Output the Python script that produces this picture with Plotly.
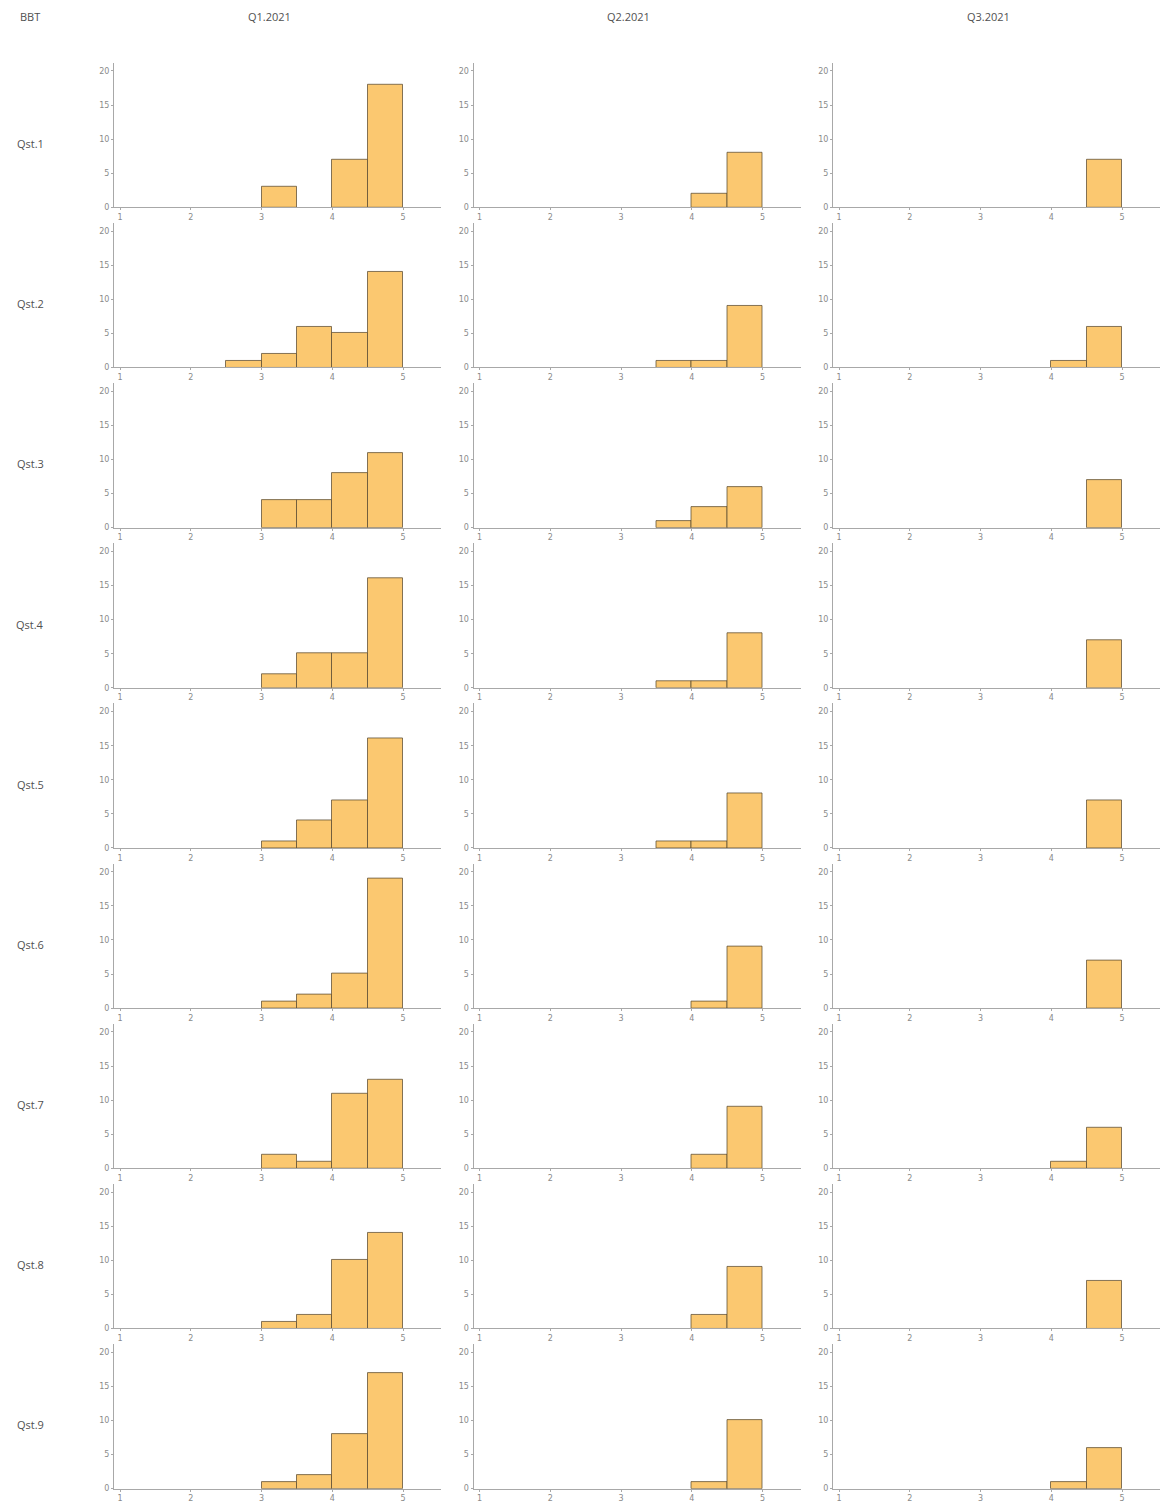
import plotly.graph_objects as go

# ---------------- data ----------------
corner_label = "BBT"
periods = ["Q1.2021", "Q2.2021", "Q3.2021"]
questions = ["Qst.1", "Qst.2", "Qst.3", "Qst.4", "Qst.5", "Qst.6", "Qst.7", "Qst.8", "Qst.9"]
bin_left = [1.0, 1.5, 2.0, 2.5, 3.0, 3.5, 4.0, 4.5]
bin_width = 0.5

# counts per bin (8 bins: 1-1.5 ... 4.5-5), one list per question
q1_2021 = [
    [0, 0, 0, 0, 3, 0, 7, 18],
    [0, 0, 0, 1, 2, 6, 5, 14],
    [0, 0, 0, 0, 4, 4, 8, 11],
    [0, 0, 0, 0, 2, 5, 5, 16],
    [0, 0, 0, 0, 1, 4, 7, 16],
    [0, 0, 0, 0, 1, 2, 5, 19],
    [0, 0, 0, 0, 2, 1, 11, 13],
    [0, 0, 0, 0, 1, 2, 10, 14],
    [0, 0, 0, 0, 1, 2, 8, 17],
]
q2_2021 = [
    [0, 0, 0, 0, 0, 0, 2, 8],
    [0, 0, 0, 0, 0, 1, 1, 9],
    [0, 0, 0, 0, 0, 1, 3, 6],
    [0, 0, 0, 0, 0, 1, 1, 8],
    [0, 0, 0, 0, 0, 1, 1, 8],
    [0, 0, 0, 0, 0, 0, 1, 9],
    [0, 0, 0, 0, 0, 0, 2, 9],
    [0, 0, 0, 0, 0, 0, 2, 9],
    [0, 0, 0, 0, 0, 0, 1, 10],
]
q3_2021 = [
    [0, 0, 0, 0, 0, 0, 0, 7],
    [0, 0, 0, 0, 0, 0, 1, 6],
    [0, 0, 0, 0, 0, 0, 0, 7],
    [0, 0, 0, 0, 0, 0, 0, 7],
    [0, 0, 0, 0, 0, 0, 0, 7],
    [0, 0, 0, 0, 0, 0, 0, 7],
    [0, 0, 0, 0, 0, 0, 1, 6],
    [0, 0, 0, 0, 0, 0, 0, 7],
    [0, 0, 0, 0, 0, 0, 1, 6],
]
x_ticks = [1, 2, 3, 4, 5]
y_ticks = [0, 5, 10, 15, 20]

series = [q1_2021, q2_2021, q3_2021]

# ---------------- layout ----------------
W, H = 1164, 1504
FILL = "rgb(251,200,112)"
EDGE = "rgba(90,75,50,0.75)"
AXC = "#a8a8a8"
TXT = "#505050"
TICKF = dict(family="DejaVu Sans", size=8, color="#8a8a8a")

col_left = [114, 473.5, 833]
col_w = 327
row_top0, row_h, row_step = 63, 145, 160.7

fig = go.Figure()
layout = dict(
    width=W, height=H,
    margin=dict(l=0, r=0, t=0, b=0),
    paper_bgcolor="white", plot_bgcolor="white",
    showlegend=False,
    font=dict(family="Open Sans", color=TXT),
)

def px_x(p):
    return p / W

def px_y(p):
    return 1 - p / H

k = 0
for r in range(len(questions)):
    for c in range(len(periods)):
        k += 1
        xa = "xaxis" if k == 1 else f"xaxis{k}"
        ya = "yaxis" if k == 1 else f"yaxis{k}"
        xr = "x" if k == 1 else f"x{k}"
        yr = "y" if k == 1 else f"y{k}"
        counts = series[c][r]
        xs = [b + bin_width / 2 for b, v in zip(bin_left, counts) if v > 0]
        ys = [v for v in counts if v > 0]
        fig.add_trace(go.Bar(
            x=xs, y=ys, width=bin_width,
            marker=dict(color=FILL, line=dict(color=EDGE, width=1)),
            xaxis=xr, yaxis=yr, hoverinfo="x+y",
        ))
        top = row_top0 + r * row_step
        bot = top + row_h
        left = col_left[c]
        layout[xa] = dict(
            domain=[px_x(left), px_x(left + col_w)],
            anchor=yr, range=[0.915, 5.535],
            tickvals=x_ticks, ticktext=[str(t) for t in x_ticks],
            showgrid=False, zeroline=False,
            showline=True, linecolor=AXC, linewidth=1,
            ticks="outside", ticklen=2, tickcolor=AXC,
            tickfont=TICKF, fixedrange=True,
        )
        layout[ya] = dict(
            domain=[px_y(bot), px_y(top)],
            anchor=xr, range=[0, 21.2],
            tickvals=y_ticks, ticktext=[str(t) for t in y_ticks],
            showgrid=False, zeroline=False,
            showline=True, linecolor=AXC, linewidth=1,
            ticks="outside", ticklen=2, tickcolor=AXC,
            tickfont=TICKF, fixedrange=True,
        )

def ann(text, x, y):
    return dict(text=text, x=px_x(x), y=px_y(y), xref="paper", yref="paper",
                xanchor="center", yanchor="middle", showarrow=False,
                font=dict(size=11, color=TXT))

annotations = [ann(corner_label, 30, 17)]
for c, p in enumerate(periods):
    annotations.append(ann(p, col_left[c] + 155, 17))
for r, q in enumerate(questions):
    annotations.append(ann(q, 30, 144 + r * row_step))
layout["annotations"] = annotations
layout["bargap"] = 0

fig.update_layout(**layout)
fig.write_html(
    "out.html",
    config={"displayModeBar": False},
    post_script="document.body.style.margin='0';document.body.style.overflow='hidden';",
)
